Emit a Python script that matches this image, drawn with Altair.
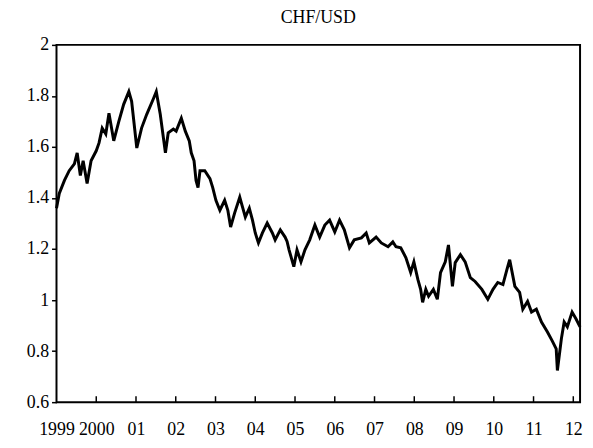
import altair as alt
import pandas as pd

# CHF per USD (decimal year, rate)
years = [1999.00, 1999.07, 1999.20, 1999.32, 1999.45, 1999.52, 1999.60, 1999.67, 1999.77, 1999.87,
         2000.00, 2000.07, 2000.15, 2000.24, 2000.32, 2000.44, 2000.57, 2000.69, 2000.82, 2000.89,
         2001.02, 2001.14, 2001.27, 2001.44, 2001.51, 2001.61, 2001.74, 2001.81, 2001.94, 2002.01,
         2002.14, 2002.24, 2002.34, 2002.39, 2002.46, 2002.51, 2002.56, 2002.61, 2002.73, 2002.86,
         2002.93, 2003.01, 2003.11, 2003.23, 2003.31, 2003.38, 2003.48, 2003.61, 2003.68, 2003.75,
         2003.85, 2003.93, 2004.00, 2004.08, 2004.18, 2004.30, 2004.43, 2004.50, 2004.63, 2004.75,
         2004.80, 2004.85, 2004.97, 2005.05, 2005.15, 2005.25, 2005.37, 2005.50, 2005.62, 2005.75,
         2005.87, 2006.00, 2006.12, 2006.24, 2006.37, 2006.49, 2006.67, 2006.79, 2006.87, 2007.04,
         2007.17, 2007.34, 2007.46, 2007.54, 2007.66, 2007.79, 2007.91, 2007.99, 2008.09, 2008.16,
         2008.21, 2008.29, 2008.36, 2008.48, 2008.58, 2008.66, 2008.78, 2008.86, 2008.96, 2009.03,
         2009.16, 2009.28, 2009.41, 2009.53, 2009.70, 2009.85, 2009.98, 2010.10, 2010.23, 2010.33,
         2010.40, 2010.53, 2010.65, 2010.73, 2010.85, 2010.95, 2011.07, 2011.20, 2011.35, 2011.47,
         2011.57, 2011.60, 2011.70, 2011.77, 2011.85, 2011.97, 2012.07, 2012.17]
rates = [1.360, 1.418, 1.469, 1.507, 1.534, 1.577, 1.488, 1.546, 1.457, 1.546,
         1.585, 1.616, 1.674, 1.651, 1.732, 1.624, 1.701, 1.767, 1.817, 1.779,
         1.596, 1.674, 1.728, 1.790, 1.817, 1.728, 1.577, 1.655, 1.670, 1.662,
         1.713, 1.662, 1.624, 1.577, 1.546, 1.469, 1.441, 1.507, 1.507, 1.476,
         1.441, 1.391, 1.352, 1.391, 1.352, 1.286, 1.341, 1.403, 1.364, 1.325,
         1.360, 1.313, 1.263, 1.224, 1.263, 1.302, 1.263, 1.236, 1.275, 1.247,
         1.230, 1.197, 1.131, 1.197, 1.150, 1.197, 1.236, 1.294, 1.247, 1.294,
         1.313, 1.267, 1.313, 1.275, 1.205, 1.236, 1.244, 1.263, 1.224, 1.247,
         1.224, 1.209, 1.228, 1.209, 1.205, 1.166, 1.108, 1.150, 1.081, 1.042,
         0.991, 1.042, 1.015, 1.042, 1.003, 1.108, 1.150, 1.216, 1.054, 1.147,
         1.178, 1.150, 1.088, 1.073, 1.042, 1.003, 1.042, 1.069, 1.061, 1.119,
         1.158, 1.054, 1.030, 0.964, 0.995, 0.953, 0.964, 0.914, 0.875, 0.840,
         0.809, 0.724, 0.848, 0.914, 0.895, 0.953, 0.926, 0.895]

x_ticks = [1999, 2000, 2001, 2002, 2003, 2004, 2005, 2006, 2007, 2008, 2009, 2010, 2011, 2012]
x_tick_labels = ["1999", "2000", "01", "02", "03", "04", "05", "06", "07", "08", "09", "10", "11", "12"]
y_ticks = [0.6, 0.8, 1.0, 1.2, 1.4, 1.6, 1.8, 2.0]

df = pd.DataFrame({"year": years, "rate": rates})
ticks_df = pd.DataFrame({"year": x_ticks[1:]})

FONT = "Liberation Serif"
label_lookup = "[" + ",".join("'" + s + "'" for s in x_tick_labels) + "][round(datum.value) - 1999]"

xscale = alt.Scale(domain=[1999, 2012.17], nice=False, zero=False)
yscale = alt.Scale(domain=[0.6, 2.0], nice=False, zero=False)

line = alt.Chart(df).mark_line(color="black", strokeWidth=3, strokeJoin="miter").encode(
    x=alt.X("year:Q", scale=xscale,
            axis=alt.Axis(values=x_ticks, labelExpr=label_lookup, title=None, grid=False,
                          tickSize=0, labelPadding=19, domain=False,
                          labelOverlap=False, labelFlush=False, labelBound=False,
                          labelFont=FONT, labelFontSize=18, labelColor="black")),
    y=alt.Y("rate:Q", scale=yscale,
            axis=alt.Axis(values=y_ticks, format="~g", title=None, grid=False,
                          tickSize=5, tickColor="black", tickWidth=1.5, labelPadding=3,
                          domain=False, labelOverlap=False, labelFlush=False,
                          labelFont=FONT, labelFontSize=18, labelColor="black")),
)

inner_ticks = alt.Chart(ticks_df).mark_rule(color="black", strokeWidth=1.5).encode(
    x=alt.X("year:Q", scale=xscale),
    y=alt.value(361),
    y2=alt.value(355),
)

chart = alt.layer(line, inner_ticks).properties(
    width=529,
    height=361,
    title=alt.TitleParams("CHF/USD", font=FONT, fontSize=18, fontWeight="normal",
                          color="black", anchor="middle", frame="group", offset=9),
    autosize=alt.AutoSizeParams(type="none"),
    padding={"left": 49, "top": 35, "right": 5, "bottom": 40},
).configure_view(stroke="black", strokeWidth=2)

chart.save("out.html", embed_options={"renderer": "svg", "actions": False})
